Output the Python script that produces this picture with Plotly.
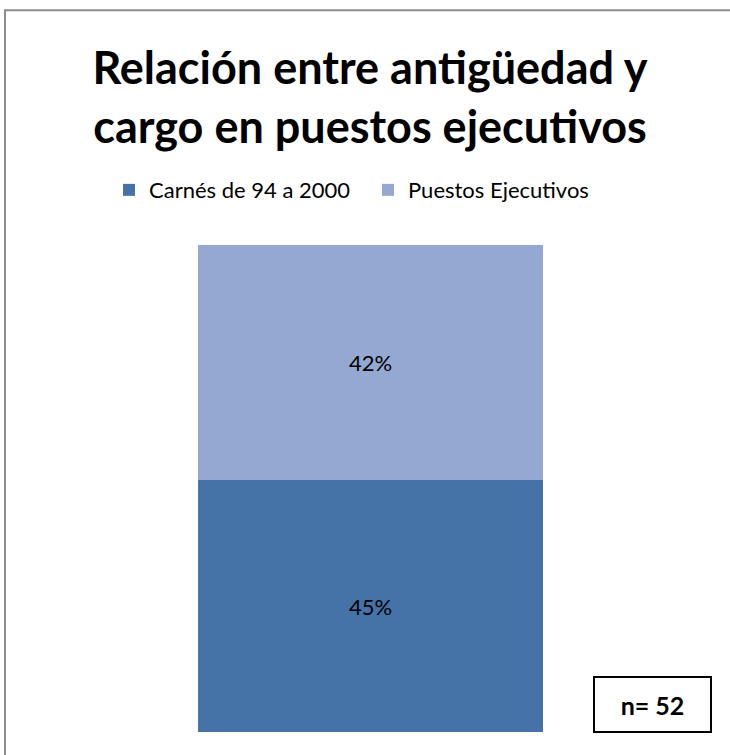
import plotly.graph_objects as go

# Stacked single-column chart: seniority vs. executive positions
categories = ["Total"]
series_names = ["Carnés de 94 a 2000", "Puestos Ejecutivos"]
carnes_values = [45]
puestos_values = [42]
sample_note = "n= 52"
title_text = "Relación entre antigüedad y<br>cargo en puestos ejecutivos"

dark_blue = "#4572A7"
light_blue = "#94A8D1"
font_family = "Lato, 'Open Sans', sans-serif"

W, H = 730, 755
plot_l, plot_r, plot_t, plot_b = 198, 543, 245, 732.5
pw, ph = plot_r - plot_l, plot_b - plot_t


def px_to_paper_x(px):
    return (px - plot_l) / pw


def px_to_paper_y(py):
    return (plot_b - py) / ph


fig = go.Figure()
for name, vals, col in [(series_names[0], carnes_values, dark_blue),
                        (series_names[1], puestos_values, light_blue)]:
    fig.add_trace(go.Bar(
        x=categories, y=vals, name=name,
        marker=dict(color=col, line=dict(width=0)),
        text=[f"{v}%" for v in vals],
        textposition="inside", insidetextanchor="middle",
        textfont=dict(family=font_family, size=22, color="black"),
        hoverinfo="skip",
    ))

total = carnes_values[0] + puestos_values[0]

fig.update_layout(
    width=W, height=H,
    barmode="stack", bargap=0,
    paper_bgcolor="white", plot_bgcolor="white",
    margin=dict(l=plot_l, r=W - plot_r, t=plot_t, b=H - plot_b, autoexpand=False),
    showlegend=True,
    legend=dict(
        orientation="h", traceorder="normal",
        x=px_to_paper_x(109), xanchor="left",
        y=px_to_paper_y(190), yanchor="middle",
        font=dict(family=font_family, size=22, color="black"),
        itemwidth=30, entrywidth=214,
    ),
    title=dict(
        text=title_text,
        font=dict(family=font_family, size=45, color="black", weight="bold"),
        xref="container", x=370 / W, xanchor="center",
        yref="container", y=1 - 84 / H, yanchor="middle",
    ),
    xaxis=dict(visible=False, range=[-0.5, 0.5]),
    yaxis=dict(visible=False, range=[0, total]),
)

# Outer chart frame
fig.add_shape(
    type="rect", xref="paper", yref="paper",
    x0=px_to_paper_x(5), x1=px_to_paper_x(760),
    y0=px_to_paper_y(790), y1=px_to_paper_y(10),
    line=dict(color="#8C8C8C", width=2), fillcolor="rgba(0,0,0,0)",
    layer="below",
)

# Sample size box
fig.add_annotation(
    text=f"<b>{sample_note}</b>",
    xref="paper", yref="paper",
    x=px_to_paper_x(652.5), y=px_to_paper_y(704.5),
    xanchor="center", yanchor="middle",
    showarrow=False,
    width=115, height=53,
    bordercolor="black", borderwidth=2, borderpad=0,
    bgcolor="white",
    font=dict(family=font_family, size=25, color="black"),
)

fig.write_html("out.html")
